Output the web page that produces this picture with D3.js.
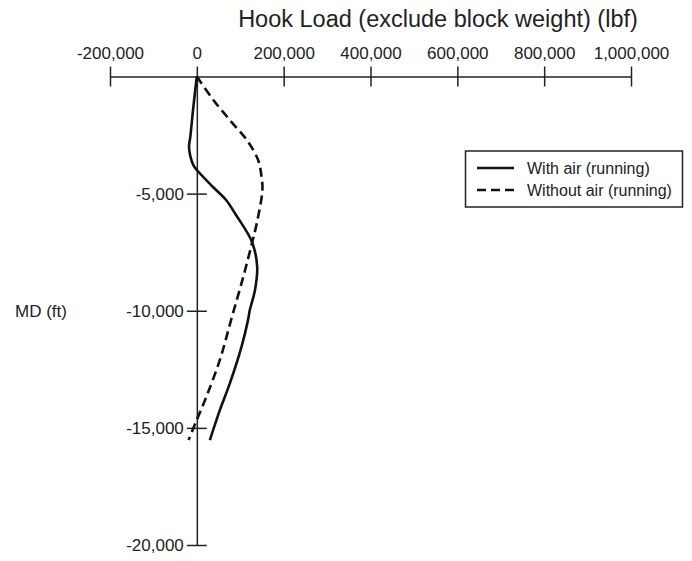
<!DOCTYPE html>
<html>
<head>
<meta charset="utf-8">
<script src="https://cdn.jsdelivr.net/npm/d3@7/dist/d3.min.js"></script>
<style>
  body { margin: 0; background: #fff; }
  svg { display: block; font-family: "Liberation Sans", Arial, sans-serif; }
</style>
</head>
<body>
<div id="chart"></div>
<script>
// Hook load vs measured depth
const xTicks = [-200000, 0, 200000, 400000, 600000, 800000, 1000000];
const xTickLabels = ["-200,000", "0", "200,000", "400,000", "600,000", "800,000", "1,000,000"];
const yTicks = [-5000, -10000, -15000, -20000];
const yTickLabels = ["-5,000", "-10,000", "-15,000", "-20,000"];

// with air (running) - solid
const depthAir = [0, -1300, -2570, -3000, -3400, -3780, -3990, -4717, -5272, -5913, -7066, -8120, -9110, -9970, -10390, -11530, -13100, -14240, -15520];
const loadAir  = [0, -8000, -15000, -18000, -15000, -8000, 0, 37300, 67300, 90300, 127100, 139000, 134000, 122000, 118000, 103000, 76000, 53000, 30000];

// without air (running) - dashed
const depthNoAir = [0, -1000, -1860, -2710, -3560, -4280, -4850, -6270, -7190, -8550, -10320, -12100, -13670, -14740, -15520];
const loadNoAir  = [0, 38000, 76000, 115000, 141000, 149000, 151000, 138000, 126000, 107000, 80000, 53000, 22000, -2000, -19000];

const seriesNames = ["With air (running)", "Without air (running)"];

const width = 692, height = 561;

const svg = d3.select("#chart").append("svg")
    .attr("width", width)
    .attr("height", height);

const x = d3.scaleLinear().domain([-200000, 1000000]).range([110, 631]);
const y = d3.scaleLinear().domain([0, -20000]).range([76.5, 545]);

// title
svg.append("text")
    .attr("x", 438)
    .attr("y", 27)
    .attr("text-anchor", "middle")
    .attr("font-size", 23.5)
    .attr("fill", "#222")
    .text("Hook Load (exclude block weight) (lbf)");

// top axis
const xAxis = svg.append("g")
    .attr("transform", `translate(0,${y(0)})`)
    .call(d3.axisTop(x)
        .tickValues(xTicks)
        .tickFormat((d, i) => xTickLabels[i])
        .tickSize(10)
        .tickSizeOuter(0)
        .tickPadding(8));
xAxis.selectAll(".tick line").attr("y1", 10).attr("stroke", "#222").attr("stroke-width", 1.5);
xAxis.select(".domain").attr("stroke", "#222").attr("stroke-width", 1.5);
xAxis.selectAll("text").attr("font-size", 17).attr("fill", "#222");

// left axis through zero
const yAxis = svg.append("g")
    .attr("transform", `translate(${x(0)},0)`)
    .call(d3.axisLeft(y)
        .tickValues(yTicks)
        .tickFormat((d, i) => yTickLabels[i])
        .tickSize(10)
        .tickSizeOuter(0)
        .tickPadding(3));
yAxis.selectAll(".tick line").attr("x1", 10).attr("stroke", "#222").attr("stroke-width", 1.5);
yAxis.select(".domain").attr("stroke", "#222").attr("stroke-width", 1.5);
yAxis.selectAll("text").attr("font-size", 17).attr("fill", "#222");

svg.append("text")
    .attr("x", 15)
    .attr("y", y(-10000))
    .attr("dy", "0.35em")
    .attr("font-size", 17)
    .attr("fill", "#222")
    .text("MD (ft)");

const line = d3.line()
    .x(d => x(d[1]))
    .y(d => y(d[0]))
    .curve(d3.curveCatmullRom.alpha(0.5));

svg.append("path")
    .datum(d3.zip(depthAir, loadAir))
    .attr("fill", "none")
    .attr("stroke", "#111")
    .attr("stroke-width", 2.6)
    .attr("d", line);

svg.append("path")
    .datum(d3.zip(depthNoAir, loadNoAir))
    .attr("fill", "none")
    .attr("stroke", "#111")
    .attr("stroke-width", 2.6)
    .attr("stroke-dasharray", "9,5")
    .attr("d", line);

// legend
const legend = svg.append("g");
legend.append("rect")
    .attr("x", 465.5).attr("y", 151)
    .attr("width", 217).attr("height", 56)
    .attr("fill", "#fff")
    .attr("stroke", "#222")
    .attr("stroke-width", 1.5);

seriesNames.forEach((name, i) => {
    const ly = 168 + i * 22;
    legend.append("line")
        .attr("x1", 477).attr("x2", 514)
        .attr("y1", ly).attr("y2", ly)
        .attr("stroke", "#111")
        .attr("stroke-width", 2.6)
        .attr("stroke-dasharray", i === 1 ? "9,5" : null);
    legend.append("text")
        .attr("x", 527).attr("y", ly)
        .attr("dy", "0.35em")
        .attr("font-size", 16)
        .attr("fill", "#222")
        .text(name);
});
</script>
</body>
</html>
